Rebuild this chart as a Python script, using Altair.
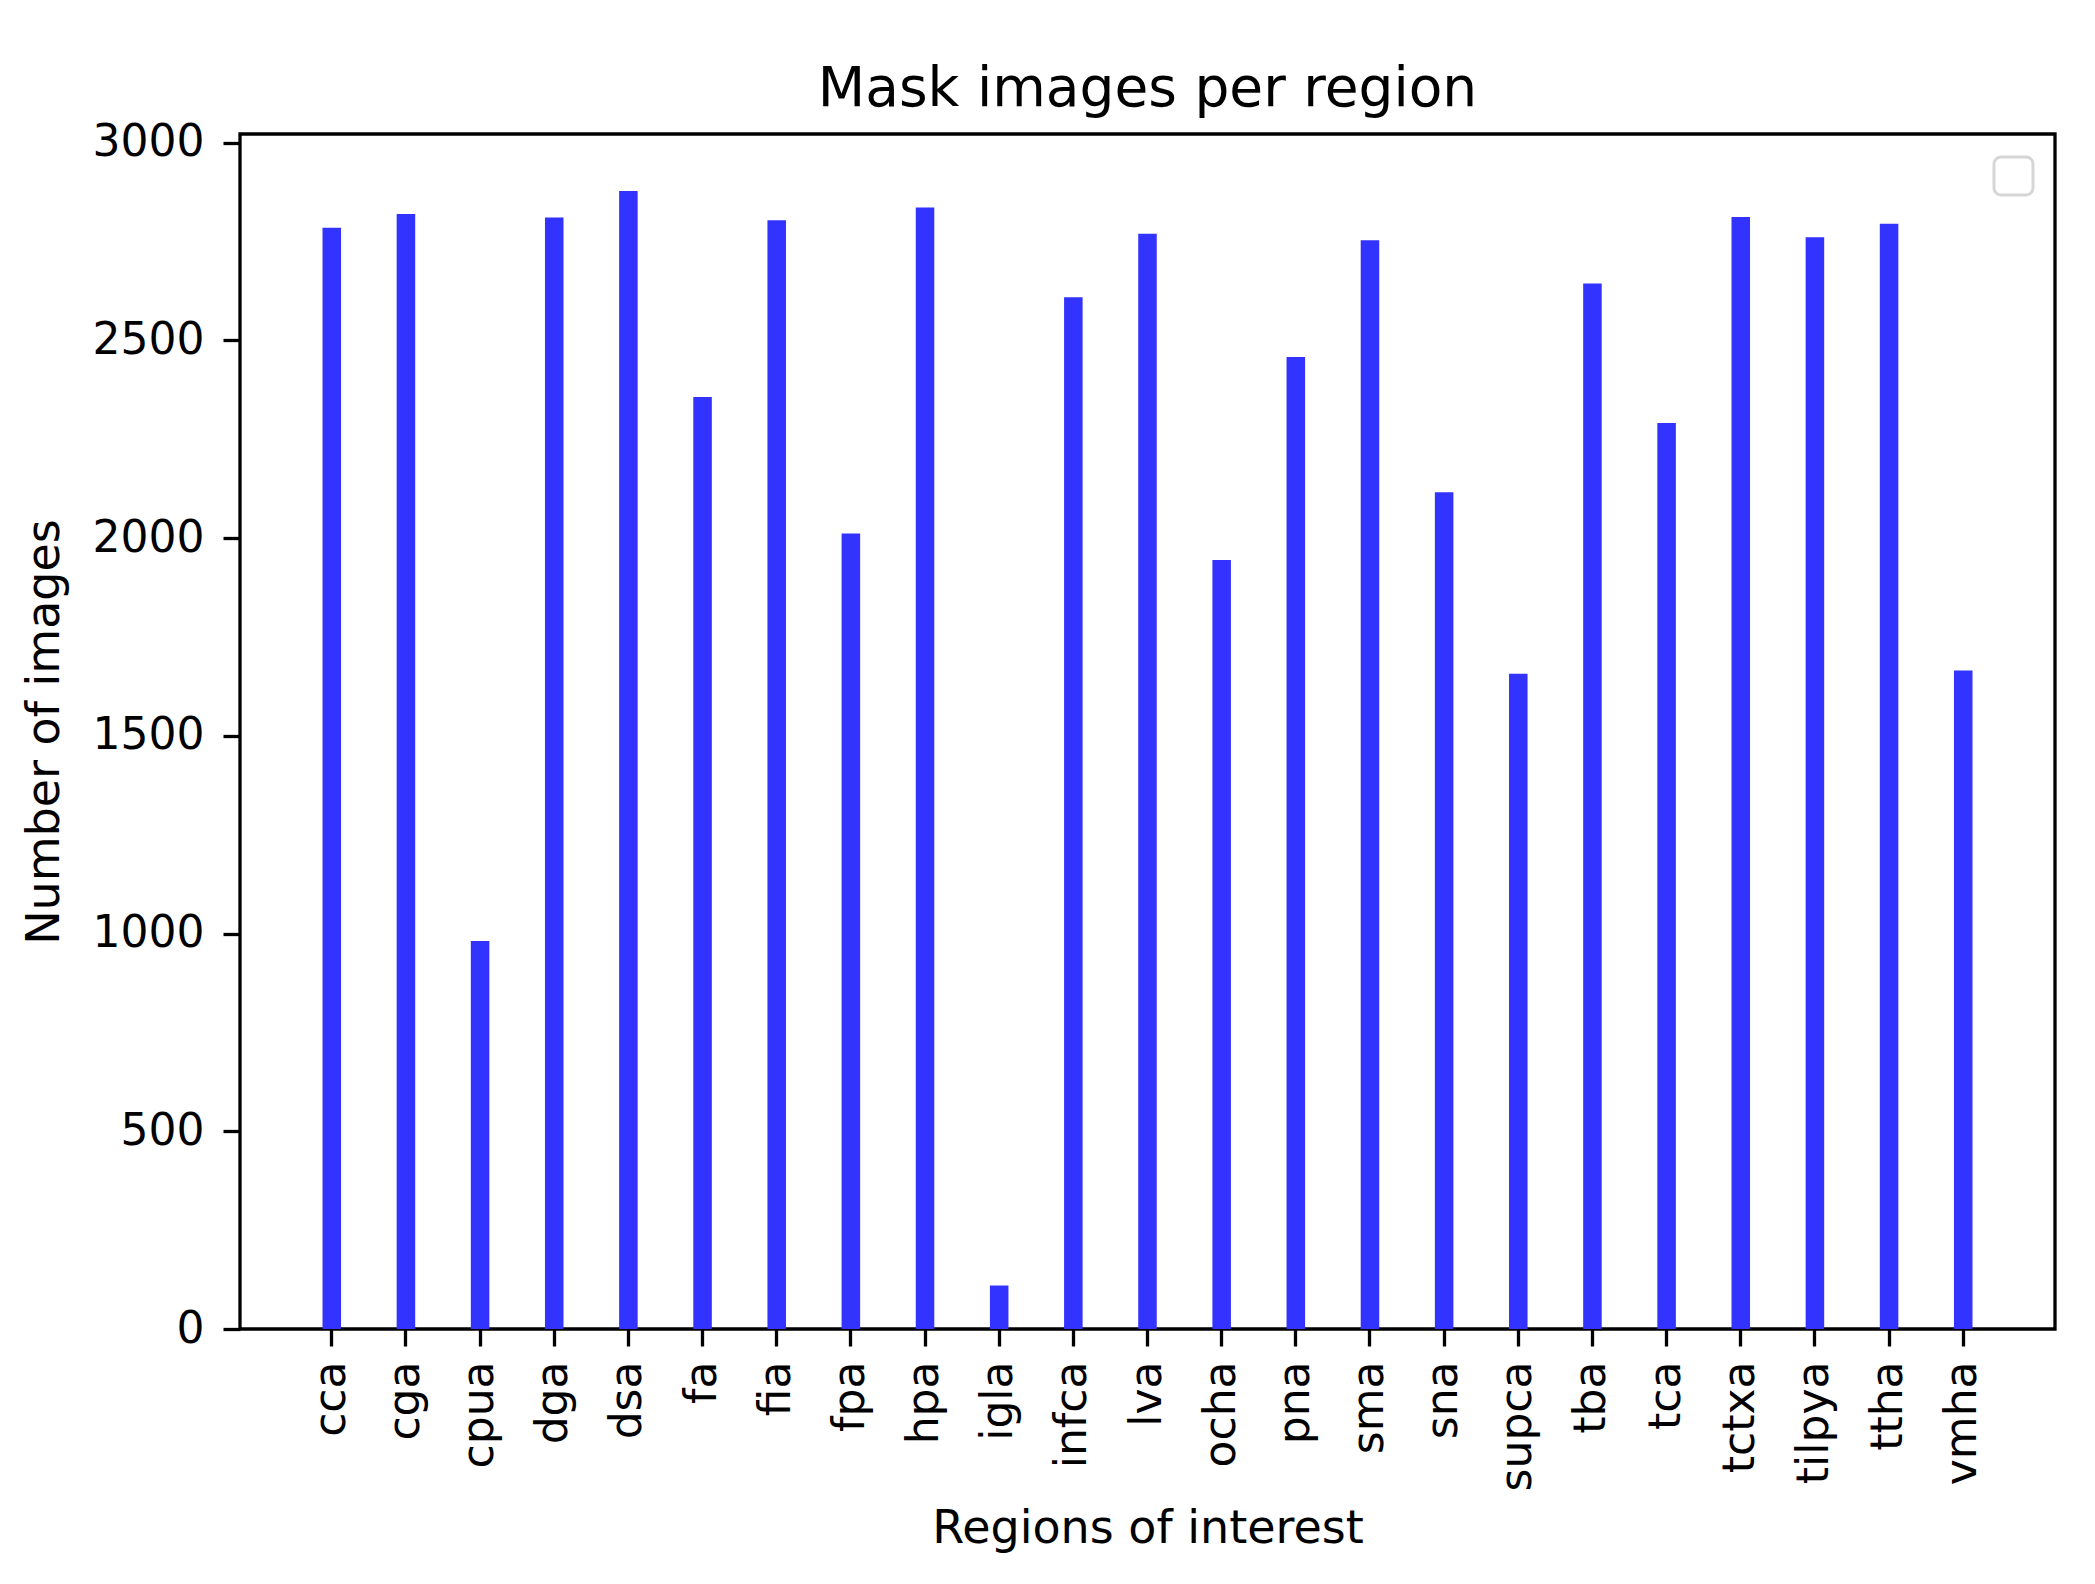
import altair as alt
import pandas as pd

regions = ["cca", "cga", "cpua", "dga", "dsa", "fa", "fia", "fpa", "hpa", "igla",
           "infca", "lva", "ocha", "pna", "sma", "sna", "supca", "tba", "tca",
           "tctxa", "tilpya", "ttha", "vmha"]
counts = [2785, 2820, 981, 2811, 2878, 2357, 2804, 2012, 2836, 110,
          2609, 2770, 1945, 2458, 2753, 2116, 1657, 2644, 2291,
          2812, 2761, 2795, 1665]
y_ticks = [0, 500, 1000, 1500, 2000, 2500, 3000]

df = pd.DataFrame({"region": regions, "count": counts})

FONT = "DejaVu Sans"
W, H = 1815, 1195
STEP = W / 24.475
X0 = 1.1125 * STEP
FS = 46
LFS = 44

bars = alt.Chart(df).mark_bar(color="#3333ff").encode(
    x=alt.X("region:N", sort=regions,
            scale=alt.Scale(paddingInner=0.75, paddingOuter=0,
                            range=[X0, W - X0]),
            axis=alt.Axis(title="Regions of interest", labelAngle=-90,
                          labelAlign="right", labelBaseline="middle",
                          labelFontSize=LFS, titleFontSize=FS,
                          labelPadding=15, tickSize=17, tickWidth=3.3,
                          titleX=W / 2, titleY=199, titleBaseline="middle",
                          titleAlign="center")),
    y=alt.Y("count:Q", scale=alt.Scale(domain=[0, 3022], nice=False, zero=True),
            axis=alt.Axis(title="Number of images", values=y_ticks, grid=False,
                          format="d",
                          labelFontSize=LFS, titleFontSize=FS, labelPadding=19,
                          tickSize=17, tickWidth=3.3, titleAngle=-90,
                          titleX=-196, titleY=H / 2, titleAlign="center",
                          titleBaseline="middle")),
)

legend_box = alt.Chart(pd.DataFrame({"a": [0]})).mark_rect(
    fill="white", stroke="#d6d6d6", strokeWidth=3, cornerRadius=7
).encode(
    x=alt.value(1754), x2=alt.value(1793), y=alt.value(23), y2=alt.value(61)
)

chart = alt.layer(bars, legend_box).properties(
    width=W, height=H,
    title=alt.Title("Mask images per region", fontSize=55, font=FONT,
                    fontWeight="normal", color="black", anchor="middle",
                    frame="group", baseline="alphabetic", offset=27, dy=67),
    autosize=alt.AutoSizeParams(type="none"),
    padding={"left": 232, "top": 126, "right": 24, "bottom": 230},
).configure_view(
    stroke="black", strokeWidth=3.3
).configure_axis(
    domain=False, labelFont=FONT, titleFont=FONT, labelColor="black",
    titleColor="black", tickColor="black", titleFontWeight="normal",
)

chart.save("out.html", embed_options={"renderer": "svg", "actions": False})
